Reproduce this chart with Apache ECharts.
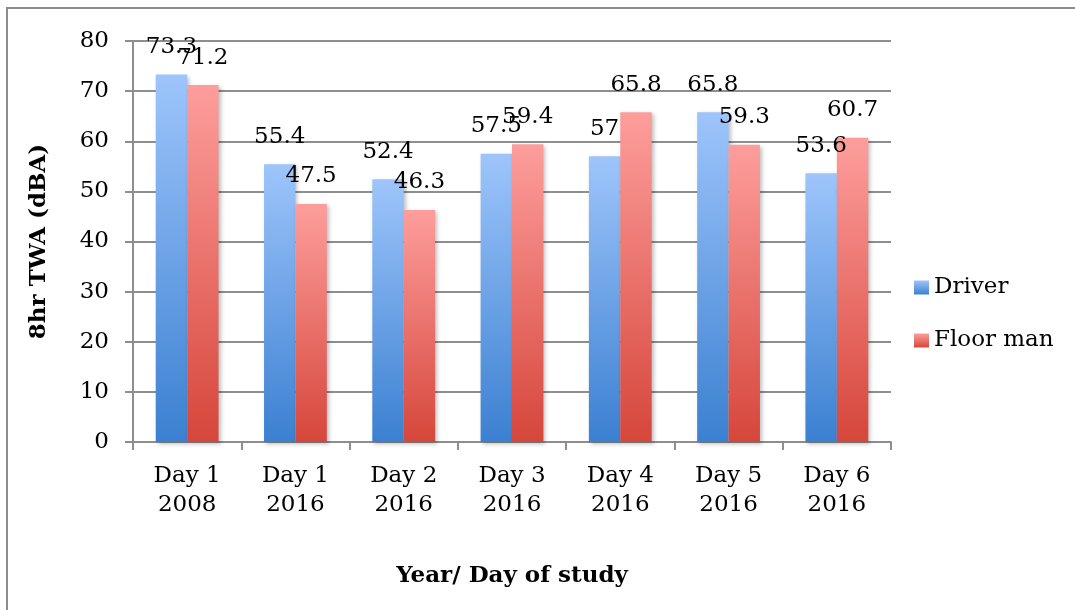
<!DOCTYPE html>
<html>
<head>
<meta charset="utf-8">
<style>
  html, body { margin: 0; padding: 0; background: #fff; }
  #chart { width: 1075px; height: 610px; }
</style>
<script src="https://cdn.jsdelivr.net/npm/echarts@6/dist/echarts.min.js"></script>
</head>
<body>
<div id="chart"></div>
<script>
// --- data ---
const categories = ['Day 1\n2008', 'Day 1\n2016', 'Day 2\n2016', 'Day 3\n2016', 'Day 4\n2016', 'Day 5\n2016', 'Day 6\n2016'];
const driver = [73.3, 55.4, 52.4, 57.5, 57, 65.8, 53.6];
const floorMan = [71.2, 47.5, 46.3, 59.4, 65.8, 59.3, 60.7];
const yTicks = { min: 0, max: 80, interval: 10 };

const FONT = '"DejaVu Serif", "Liberation Serif", serif';
const FS = 23;
const GRID_GRAY = '#8e8e8e';

const chart = echarts.init(document.getElementById('chart'));

// vertical gradients like the office-style bars
const blueGrad = new echarts.graphic.LinearGradient(0, 0, 0, 1, [
  { offset: 0, color: '#9ec5fb' },
  { offset: 1, color: '#3b80d1' }
]);
const redGrad = new echarts.graphic.LinearGradient(0, 0, 0, 1, [
  { offset: 0, color: '#fd9e9c' },
  { offset: 1, color: '#d6463b' }
]);

// value labels float a little above each bar
const barLabel = {
  show: true,
  position: 'top',
  distance: 16,
  color: '#000',
  fontFamily: FONT,
  fontSize: FS
};

const option = {
  backgroundColor: '#fff',
  textStyle: { fontFamily: FONT, color: '#000' },
  // outer frame: only the left and top edges show in the picture
  graphic: [{
    type: 'polyline',
    shape: { points: [[7, 620], [7, 8], [1090, 8]] },
    style: { fill: null, stroke: '#8c8c8c', lineWidth: 2 },
    silent: true
  }],
  grid: { left: 133, right: 184, top: 41, bottom: 168 },
  legend: {
    orient: 'vertical',
    left: 914,
    top: 276,
    padding: 0,
    itemWidth: 15,
    itemHeight: 14,
    itemGap: 30,
    icon: 'rect',
    textStyle: { fontFamily: FONT, fontSize: FS, color: '#000' },
    data: ['Driver', 'Floor man']
  },
  xAxis: {
    type: 'category',
    data: categories,
    name: 'Year/ Day of study',
    nameLocation: 'middle',
    nameGap: 123,
    nameTextStyle: { fontFamily: FONT, fontSize: FS, fontWeight: 'bold', color: '#000' },
    axisLine: { lineStyle: { color: GRID_GRAY, width: 2 } },
    axisTick: { show: true, length: 8, lineStyle: { color: GRID_GRAY, width: 2 } },
    axisLabel: {
      color: '#000',
      fontFamily: FONT,
      fontSize: FS,
      lineHeight: 29,
      margin: 20,
      interval: 0
    }
  },
  yAxis: {
    type: 'value',
    min: yTicks.min,
    max: yTicks.max,
    interval: yTicks.interval,
    name: '8hr TWA (dBA)',
    nameLocation: 'middle',
    nameGap: 82,
    nameTextStyle: { fontFamily: FONT, fontSize: FS, fontWeight: 'bold', color: '#000' },
    axisLine: { show: true, lineStyle: { color: GRID_GRAY, width: 2 } },
    axisTick: { show: true, length: 8, lineStyle: { color: GRID_GRAY, width: 2 } },
    axisLabel: { color: '#000', fontFamily: FONT, fontSize: FS, margin: 24 },
    splitLine: { show: true, lineStyle: { color: GRID_GRAY, width: 2 } }
  },
  series: [
    {
      name: 'Driver',
      type: 'bar',
      data: driver,
      barGap: '0%',
      barCategoryGap: '42%',
      itemStyle: {
        color: blueGrad,
        shadowColor: 'rgba(0,0,0,0.25)',
        shadowBlur: 4,
        shadowOffsetX: 2,
        shadowOffsetY: 2
      },
      label: barLabel,
      animation: false
    },
    {
      name: 'Floor man',
      type: 'bar',
      data: floorMan,
      itemStyle: {
        color: redGrad,
        shadowColor: 'rgba(0,0,0,0.25)',
        shadowBlur: 4,
        shadowOffsetX: 2,
        shadowOffsetY: 2
      },
      label: barLabel,
      animation: false
    }
  ]
};

chart.setOption(option);
</script>
</body>
</html>
